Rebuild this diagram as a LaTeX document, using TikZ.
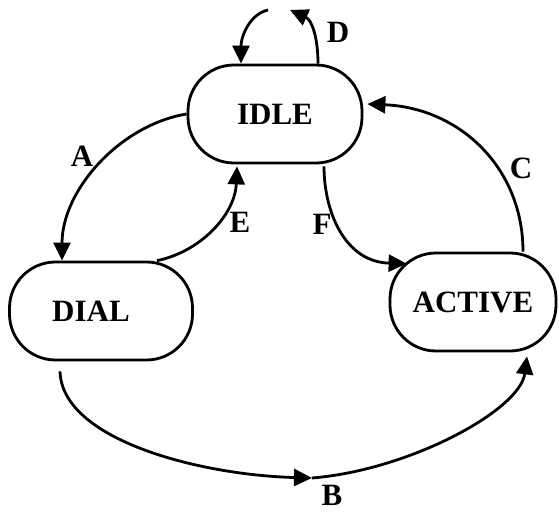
\documentclass[tikz,border=0pt]{standalone}
\usepackage{fontspec}
\setmainfont{Liberation Serif}
\usetikzlibrary{arrows.meta,calc}
\begin{document}
\begin{tikzpicture}[x=1pt,y=-1pt,
  fsmstate/.style={draw, line width=2.8pt, rounded corners=46pt,
    minimum width=#1, minimum height=98pt, inner sep=0pt,
    font=\fontsize{31}{35}\selectfont\bfseries},
  trans/.style={line width=2.8pt, -{Triangle[length=18pt,width=17pt]}},
  lbl/.style={font=\fontsize{31}{35}\selectfont\bfseries, inner sep=0pt}]
  \fill[white] (0,0) rectangle (559,513);
  \useasboundingbox (0,0) rectangle (559,513);

  % states
  \node[fsmstate=174pt] (idle)   at (275,114) {IDLE};
  \node[fsmstate=183pt] (dial)   at (101,311) {\hspace*{-20pt}DIAL};
  \node[fsmstate=166pt] (active) at (473,302) {ACTIVE};

  % D: self loop on IDLE, drawn in two strokes with a small gap
  \coordinate (dtop) at (290,10);
  \coordinate (dback) at (268,10);
  \draw[trans] ($(idle.north)+(43,0)$) .. controls (318,38) and (312,20) .. (dtop);
  \draw[trans] (dback) .. controls (250,14) and (241,36) .. ($(idle.north)+(-34,0)$);
  \node[lbl] (ld) at (338,32) {D};

  % A: IDLE -> DIAL
  \draw[trans] (idle.west) .. controls (120,125) and (62,190) .. ($(dial.north)+(-39,0)$);
  \node[lbl] (la) at (82,156) {A};

  % E: DIAL -> IDLE
  \draw[trans] ($(dial.north)+(56,0)$) .. controls (200,252) and (235,215) .. ($(idle.south)+(-38,2)$);
  \node[lbl] (le) at (240,222) {E};

  % F: IDLE -> ACTIVE
  \draw[trans] ($(idle.south)+(49,2)$) .. controls (324,212) and (345,262) .. ($(active.north west)+(18,12)$);
  \node[lbl] (lf) at (322,224) {F};

  % C: ACTIVE -> IDLE
  \draw[trans] ($(active.north)+(50,0)$) .. controls (523,168) and (460,108) .. ($(idle.east)+(4,-10)$);
  \node[lbl] (lc) at (521,168) {C};

  % B: DIAL -> ACTIVE, with a mid-way arrowhead
  \coordinate (bmid) at (312,478);
  \draw[trans] ($(dial.south)+(-41,10)$) .. controls (62,440) and (200,475) .. (bmid);
  \draw[trans] (bmid) .. controls (410,470) and (520,410) .. ($(active.south)+(54,4)$);
  \node[lbl] (lb) at (332,495) {B};
\end{tikzpicture}
\end{document}
